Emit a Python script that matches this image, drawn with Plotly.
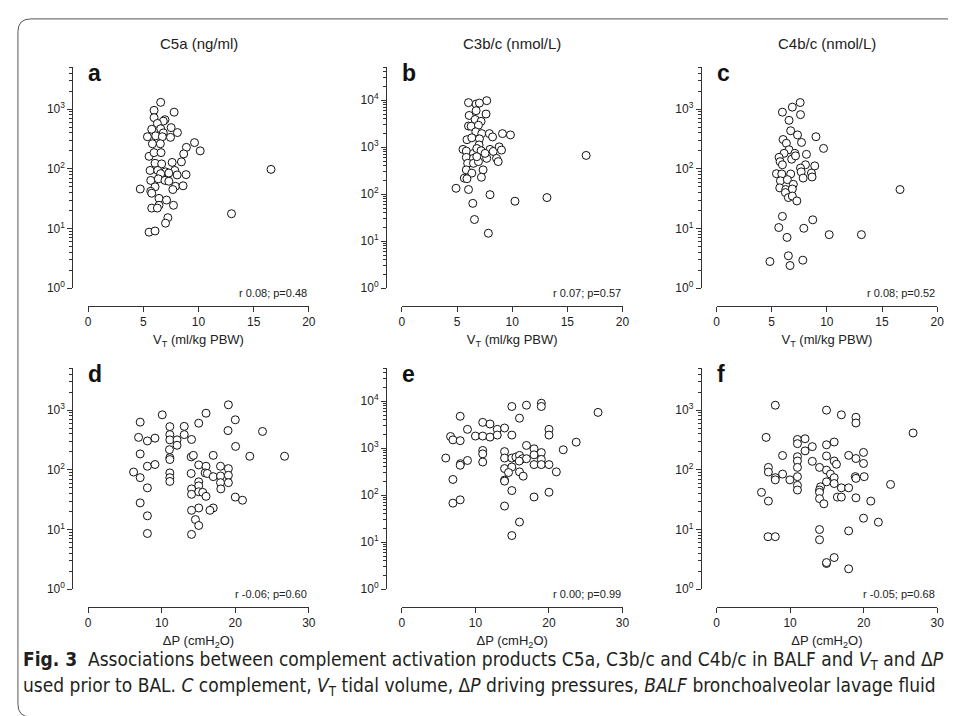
import math
import plotly.graph_objects as go

# ---------------- data ----------------
col_titles = ["C5a (ng/ml)", "C3b/c (nmol/L)", "C4b/c (nmol/L)"]
panel_letters = ["a", "b", "c", "d", "e", "f"]
stats_text = ["r 0.08; p=0.48", "r 0.07; p=0.57", "r 0.08; p=0.52",
              "r -0.06; p=0.60", "r 0.00; p=0.99", "r -0.05; p=0.68"]
vt_ticks = [0, 5, 10, 15, 20]
dp_ticks = [0, 10, 20, 30]

a_vt = [6.57, 5.97, 7.79, 5.97, 6.96, 6.81, 6.27, 5.76, 6.57, 7.52,
        6.81, 8.09, 5.37, 6.12, 6.72, 7.46, 5.82, 6.54, 9.64, 8.90,
        10.15, 5.52, 5.97, 6.60, 8.66, 6.06, 6.66, 7.61, 8.45, 5.61,
        6.30, 7.01, 7.85, 6.57, 8.06, 8.87, 5.67, 6.36, 6.96, 7.31,
        7.91, 8.60, 6.06, 4.72, 5.67, 5.76, 7.67, 6.42, 7.10, 6.42,
        5.76, 6.27, 7.73, 7.22, 7.01, 5.52, 6.06, 12.99, 16.57, 7.31]
a_c5a = [1300, 955, 890, 720, 665, 630, 575, 460, 470, 490,
         400, 405, 345, 357, 345, 337, 263, 263, 275, 229,
         200, 162, 187, 187, 178, 124, 121, 128, 131, 94,
         94, 89, 94, 83, 79, 80, 64, 68, 64, 62,
         51, 52, 50, 46, 42, 39, 45, 32, 30, 24.5,
         22, 22, 24.5, 15.2, 12.3, 8.7, 9.1, 17.7, 98, 85]

b_vt = [7.69, 6.04, 6.73, 7.03, 6.73, 7.63, 6.10, 6.64, 7.18, 6.04,
        6.28, 6.94, 6.70, 7.24, 7.93, 8.22, 9.12, 9.84, 5.90, 6.34,
        7.03, 5.54, 5.84, 6.49, 7.00, 6.79, 7.18, 7.99, 8.28, 8.82,
        9.03, 5.84, 6.49, 7.69, 8.58, 8.73, 5.96, 6.49, 6.94, 5.84,
        6.34, 7.36, 5.66, 5.90, 7.21, 4.91, 6.04, 7.99, 6.43, 10.25,
        13.15, 6.58, 7.84, 16.70, 6.79, 7.54]
b_c3 = [9800, 8900, 8300, 8700, 6000, 5100, 4750, 3900, 3550, 2830,
        2800, 2940, 2130, 1950, 1950, 1660, 1950, 1830, 1450, 1590,
        1510, 900, 830, 740, 1120, 940, 845, 900, 815, 1020,
        870, 610, 580, 580, 580, 495, 455, 455, 495, 330,
        282, 330, 220, 214, 230, 134, 126, 98, 64, 71,
        85, 29, 14.8, 670, 630, 740]

c_vt = [7.58, 6.87, 5.97, 7.61, 6.57, 6.72, 7.34, 9.01, 6.03, 6.33,
        7.70, 6.57, 7.10, 6.12, 8.15, 9.70, 5.67, 5.76, 6.81, 7.16,
        8.06, 8.90, 7.61, 5.43, 5.91, 6.72, 7.67, 7.85, 8.60, 8.66,
        5.79, 6.42, 6.96, 5.73, 6.27, 6.87, 6.24, 6.51, 6.87, 7.28,
        5.97, 8.72, 5.64, 7.91, 6.39, 10.21, 13.13, 16.63, 4.84, 6.51,
        6.66, 7.82, 5.97]
c_c4 = [1290, 1080, 890, 810, 650, 435, 370, 345, 310, 268,
        277, 209, 182, 182, 175, 220, 156, 132, 145, 165,
        117, 112, 103, 83, 82, 82, 89, 70, 85, 73,
        63, 66, 55, 48, 45, 46, 40, 33, 35, 29,
        16, 14, 10.4, 10.1, 7.1, 7.9, 7.9, 45, 2.8, 3.5,
        2.4, 2.95, 117]

d_dp = [19.06, 10.07, 16.02, 7.07, 15.03, 20.0, 11.1, 13.06, 19.01, 23.7,
        6.85, 8.05, 9.08, 11.1, 11.1, 12.08, 13.06, 14.05, 12.08, 20.04,
        11.05, 7.07, 14.0, 14.3, 17.0, 21.97, 11.1, 11.1, 8.05, 9.08,
        15.03, 16.02, 17.99, 19.06, 6.17, 7.07, 11.1, 11.1, 11.1, 14.0,
        15.9, 16.2, 17.0, 17.99, 19.06, 15.03, 17.99, 19.06, 15.03, 8.05,
        14.05, 18.03, 14.05, 15.03, 15.57, 16.02, 20.0, 20.98, 7.07, 15.03,
        14.05, 17.0, 16.55, 8.05, 14.58, 15.03, 8.05, 14.05, 26.7]
d_c5a = [1230, 835, 890, 630, 605, 690, 530, 535, 455, 440,
         350, 305, 340, 390, 318, 318, 390, 323, 258, 247,
         218, 185, 165, 175, 175, 169, 160, 149, 115, 123,
         121, 115, 115, 105, 92, 74, 89, 74, 64, 87,
         89, 87, 77, 79, 81, 63, 61, 61, 54, 50,
         48, 48, 39, 43, 42, 36, 35, 31, 28, 23,
         21, 23, 21, 17, 14.7, 11.7, 8.6, 8.3, 169]

e_dp = [14.95, 16.94, 18.96, 18.96, 26.67, 7.93, 15.99, 10.99, 11.98, 8.92,
        12.97, 13.96, 20.0, 6.62, 6.94, 7.93, 10.0, 10.99, 11.98, 12.97,
        14.95, 20.0, 23.7, 16.94, 17.97, 21.94, 10.99, 10.99, 13.96, 17.97,
        18.96, 5.97, 13.96, 14.95, 15.5, 15.99, 16.4, 16.94, 18.96, 8.92,
        7.97, 7.93, 10.99, 15.95, 17.97, 18.96, 20.0, 13.96, 14.95, 14.5,
        15.99, 21.0, 16.49, 6.94, 13.96, 13.96, 14.95, 20.0, 17.97, 6.94,
        7.93, 13.96, 15.99, 14.95]
e_c3 = [7750, 8250, 9100, 7750, 5800, 4800, 4370, 3560, 3290, 2530,
        2530, 2700, 2530, 1780, 1510, 1450, 1820, 1820, 1730, 1910,
        1910, 1910, 1350, 1150, 975, 930, 900, 760, 850, 725,
        810, 620, 620, 620, 650, 705, 600, 600, 580, 550,
        470, 435, 510, 535, 450, 450, 450, 370, 400, 305,
        315, 315, 255, 217, 210, 200, 126, 116, 92, 68,
        80, 59, 27, 13.9]

f_dp = [7.99, 14.95, 16.97, 18.95, 18.95, 26.72, 6.74, 11.0, 12.03, 11.0,
        14.95, 15.99, 13.02, 12.03, 19.98, 8.98, 11.0, 14.95, 17.96, 18.95,
        11.0, 13.02, 15.99, 16.3, 19.98, 7.05, 11.0, 14.0, 14.95, 7.05,
        8.98, 7.99, 7.99, 9.97, 11.0, 15.49, 15.99, 18.86, 18.95, 20.07,
        14.95, 15.99, 14.14, 16.97, 17.96, 23.66, 11.0, 11.0, 6.11, 14.0,
        14.0, 14.0, 16.43, 16.97, 18.95, 14.59, 7.05, 20.97, 19.98, 22.0,
        14.0, 17.96, 7.0, 7.99, 14.0, 14.95, 14.95, 15.99, 17.96]
f_c4 = [1210, 1000, 835, 760, 610, 415, 350, 323, 332, 275,
        263, 293, 245, 208, 196, 174, 166, 171, 175, 155,
        141, 139, 141, 124, 128, 110, 110, 110, 99, 92,
        85, 74, 68, 68, 77, 85, 74, 77, 72, 77,
        63, 59, 52, 50, 50, 57, 55, 46, 42, 46,
        42, 33, 35, 35, 34, 27, 30, 30, 15.5, 13.3,
        10, 9.5, 7.6, 7.6, 6.75, 2.7, 2.8, 3.4, 2.2]

panels_x = [a_vt, b_vt, c_vt, d_dp, e_dp, f_dp]
panels_y = [a_c5a, b_c3, c_c4, d_c5a, e_c3, f_c4]
y_max = [5000, 50000, 5000, 5000, 50000, 5000]
x_max = [20, 20, 20, 30, 30, 30]

# ---------------- layout (pixels) ----------------
W, H = 956, 716
FONT = "Liberation Sans, Arial, sans-serif"
DARK = "#222222"
col_x0 = [78, 395, 713]
col_w = 223
yaxis_gap = 16
row_top = [60, 364]
row_h = 223
xaxis_gap = 18


def px(x):
    return x / W


def py(y):
    return 1 - y / H


fig = go.Figure()
layout = dict(width=W, height=H, margin=dict(l=0, r=0, t=0, b=0),
              paper_bgcolor="white", plot_bgcolor="rgba(0,0,0,0)",
              showlegend=False, font=dict(family=FONT, color=DARK, size=12))
annotations = []

for i in range(6):
    r, c = divmod(i, 3)
    n = "" if i == 0 else str(i + 1)
    x0 = col_x0[c]
    x1 = x0 + col_w
    yt = row_top[r]
    yb = yt + row_h
    fig.add_trace(go.Scatter(
        x=panels_x[i], y=panels_y[i], mode="markers",
        xaxis="x" + n, yaxis="y" + n, cliponaxis=False,
        marker=dict(symbol="circle", size=8, color="white",
                    line=dict(color="#111111", width=1))))
    ticks = vt_ticks if x_max[i] == 20 else dp_ticks
    ttl = "V<sub>T</sub> (ml/kg PBW)" if r == 0 else "ΔP (cmH<sub>2</sub>O)"
    layout["xaxis" + n] = dict(
        domain=[px(x0), px(x1)], anchor="free", position=py(yb + xaxis_gap),
        range=[0, x_max[i]], tickvals=ticks, ticktext=[str(t) for t in ticks],
        showline=True, linecolor="#333333", linewidth=1, ticks="outside",
        ticklen=5, tickcolor="#333333", showgrid=False, zeroline=False,
        tickfont=dict(size=12, color=DARK),
        title=dict(text=ttl, font=dict(size=13, color=DARK), standoff=6))
    ndec = int(round(math.log10(y_max[i])))
    yt_vals = [10 ** k for k in range(ndec + 1) if 10 ** k <= y_max[i]]
    yt_text = ["10<sup>%d</sup>" % k for k in range(len(yt_vals))]
    minor_vals = [m * 10 ** k for k in range(ndec + 1) for m in range(2, 10)
                  if m * 10 ** k <= y_max[i]]
    layout["yaxis" + n] = dict(
        domain=[py(yb), py(yt)], anchor="free", position=px(x0 - yaxis_gap),
        type="log", range=[0, math.log10(y_max[i])],
        tickvals=yt_vals, ticktext=yt_text,
        showline=True, linecolor="#333333", linewidth=1, ticks="outside",
        ticklen=5, tickcolor="#333333", showgrid=False, zeroline=False,
        tickfont=dict(size=12, color=DARK),
        minor=dict(tickmode="array", tickvals=minor_vals, ticks="outside",
                   ticklen=3, tickcolor="#333333", showgrid=False))
    # panel letter
    annotations.append(dict(
        text="<b>%s</b>" % panel_letters[i], xref="paper", yref="paper",
        x=px(x0 - 2), y=py(yt + 6), xanchor="left", yanchor="middle",
        showarrow=False, font=dict(size=23, color="#111111", family=FONT)))
    # stats text
    annotations.append(dict(
        text=stats_text[i], xref="paper", yref="paper",
        x=px(x1), y=py(yb + 5), xanchor="right", yanchor="middle",
        showarrow=False, font=dict(size=11, color=DARK, family=FONT)))

for c in range(3):
    annotations.append(dict(
        text=col_titles[c], xref="paper", yref="paper",
        x=px(col_x0[c] + col_w / 2), y=py(36), xanchor="center",
        yanchor="middle", showarrow=False,
        font=dict(size=15, color=DARK, family=FONT)))

CAP_FONT = "Liberation Sans Narrow, DejaVu Sans Condensed, Arial Narrow, sans-serif"
cap1 = ("<b>Fig. 3</b>  Associations between complement activation products "
        "C5a, C3b/c and C4b/c in BALF and <i>V</i><sub>T</sub> and Δ<i>P</i>")
cap2 = ("used prior to BAL. <i>C</i> complement, <i>V</i><sub>T</sub> tidal volume, "
        "Δ<i>P</i> driving pressures, <i>BALF</i> bronchoalveolar lavage fluid")
annotations.append(dict(text=cap1, xref="paper", yref="paper", x=px(10),
                        y=py(659), xanchor="left", yanchor="middle",
                        showarrow=False,
                        font=dict(size=19, color="#231f20", family=CAP_FONT)))
annotations.append(dict(text=cap2, xref="paper", yref="paper", x=px(10),
                        y=py(685), xanchor="left", yanchor="middle",
                        showarrow=False,
                        font=dict(size=19, color="#231f20", family=CAP_FONT)))

layout["annotations"] = annotations
layout["shapes"] = [dict(
    type="path", xref="paper", yref="paper",
    path="M %f %f L %f %f Q %f %f %f %f L %f %f Q %f %f %f %f" % (
        px(956), py(11), px(20), py(11), px(7), py(11), px(7), py(24),
        px(7), py(703), px(7), py(716), px(20), py(716)),
    line=dict(color="#555555", width=1))]

fig.update_layout(**layout)
fig.write_html("out.html")
